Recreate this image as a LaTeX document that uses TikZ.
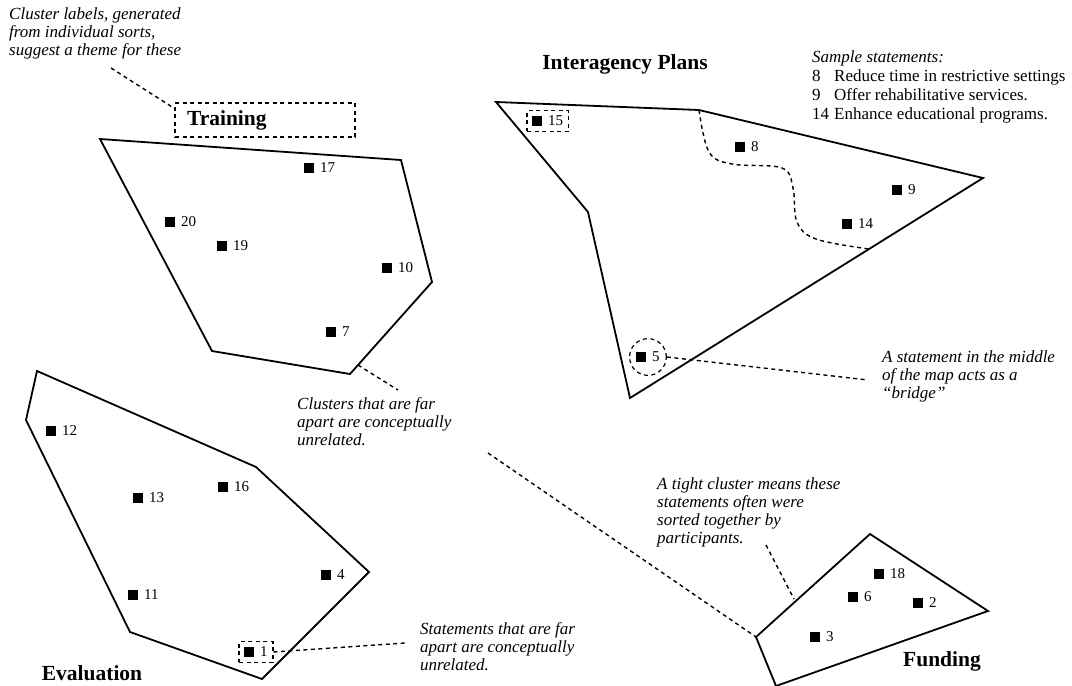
\documentclass[tikz,border=0pt]{standalone}
\usepackage{fontspec}
\setmainfont{Liberation Serif}
\usetikzlibrary{fit,shapes.geometric}

\begin{document}
\begin{tikzpicture}[x=1pt,y=-1pt,
  edge/.style={line width=1.8pt, line join=miter},
  lead/.style={line width=1.4pt, dash pattern=on 4pt off 3.5pt},
  pt/.style={fill=black, minimum size=10pt, inner sep=0pt, outer sep=0pt},
  num/.style={font=\fontsize{15}{18}\selectfont, inner sep=0pt},
  note/.style={font=\fontsize{17}{18}\selectfont\itshape, align=left, inner sep=0pt, anchor=north west},
  heading/.style={font=\fontsize{21.5}{24}\selectfont\bfseries, inner sep=0pt},
  label distance=6pt]

\useasboundingbox (0,0) rectangle (1072,686);

% ---------- cluster outlines ----------
\coordinate (t1) at (100,139); \coordinate (t2) at (401,160); \coordinate (t3) at (432,282);
\coordinate (t4) at (350,374); \coordinate (t5) at (212,351);
\draw[edge] (t1) -- (t2) -- (t3) -- (t4) -- (t5) -- cycle;

\coordinate (i1) at (496,102); \coordinate (i2) at (699,110); \coordinate (i3) at (983,178);
\coordinate (i4) at (630,398); \coordinate (i5) at (588,212);
\draw[edge] (i1) -- (i2) -- (i3) -- (i4) -- (i5) -- cycle;

\coordinate (e1) at (37,371); \coordinate (e2) at (26,420); \coordinate (e3) at (130,632);
\coordinate (e4) at (262,679); \coordinate (e5) at (369,572); \coordinate (e6) at (256,467);
\draw[edge] (e1) -- (e2) -- (e3) -- (e4) -- (e5) -- (e6) -- cycle;

\coordinate (f1) at (756,637); \coordinate (f2) at (870,534); \coordinate (f3) at (988,611);
\coordinate (f4) at (776,686);
\draw[edge] (f1) -- (f2) -- (f3) -- (f4) -- cycle;

% sub-region boundary inside Interagency Plans
\draw[lead] plot[smooth, tension=0.6] coordinates
  {(699,110) (709,152) (732,164) (782,168) (793,188) (797,222) (816,239) (869,249)};

% ---------- statements ----------
\foreach \n/\x/\y in {17/309/168, 20/170/222, 19/222/246, 10/387/268, 7/331/332,
                      15/537/121, 8/740/147, 9/897/190, 14/847/224, 5/641/357,
                      12/51/431, 13/138/498, 16/223/487, 4/326/575, 11/133/595, 1/249/652,
                      18/879/574, 6/853/597, 2/918/603, 3/815/637}
  \node[pt, label={[num, name=l\n]right:\n}] (p\n) at (\x,\y) {};

\node[draw, lead, line width=1.2pt, fit=(p15)(l15), inner sep=5pt] (box15) {};
\node[draw, lead, line width=1.2pt, fit=(p1)(l1), inner sep=5pt] (box1) {};
\node[draw, lead, line width=1.2pt, circle, fit=(p5)(l5), inner sep=4pt] (ring5) {};

% ---------- cluster names ----------
\node[draw, lead, line width=1.2pt, heading, text width=156pt, align=left, inner sep=12pt,
      minimum height=34pt, inner ysep=0pt] (trainbox) at (265,120) {Training};
\node[heading] (interagency) at (625,64) {Interagency Plans};
\node[heading] (evaluation) at (92,673) {Evaluation};
\node[heading] (funding) at (942,661) {Funding};

% ---------- notes ----------
\node[note] (notelabels) at (9,8) {Cluster labels, generated\\from individual sorts,\\suggest a theme for these};
\node[note] (notefar) at (297,397) {Clusters that are far\\apart are conceptually\\unrelated.};
\node[note] (notebridge) at (882,350) {A statement in the middle\\of the map acts as a\\``bridge''};
\node[note] (notetight) at (657,477) {A tight cluster means these\\statements often were\\sorted together by\\participants.};
\node[note] (notestmt) at (420,622) {Statements that are far\\apart are conceptually\\unrelated.};

\node[inner sep=0pt, anchor=north west, font=\fontsize{17}{19}\selectfont] (samples) at (812,49)
  {\begin{tabular}{@{}l@{\hspace{5pt}}l@{}}
   \multicolumn{2}{@{}l@{}}{\itshape Sample statements:}\\
   8 & Reduce time in restrictive settings\\
   9 & Offer rehabilitative services.\\
   14 & Enhance educational programs.
   \end{tabular}};

% ---------- leader lines ----------
\coordinate (c1) at (111,68);
\draw[lead] (c1) -- ([yshift=-6pt]trainbox.north west);
\coordinate (c2) at (358,365); \coordinate (c3) at (398,390);
\draw[lead] (c2) -- (c3);
\coordinate (c4) at (488,453);
\draw[lead] (c4) -- (f1);
\coordinate (c5) at (868,380);
\draw[lead] (ring5.east) -- (c5);
\coordinate (c6) at (766,545); \coordinate (c7) at (794,599);
\draw[lead] (c6) -- (c7);
\coordinate (c8) at (405,643);
\draw[lead] (box1.east) -- (c8);
\end{tikzpicture}
\end{document}
